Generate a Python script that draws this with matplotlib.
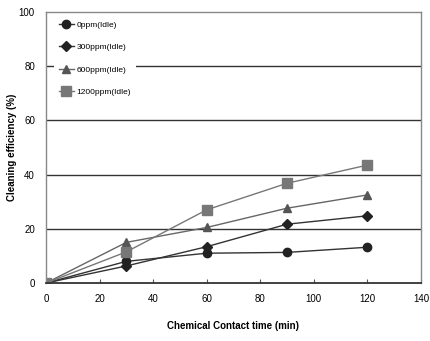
import matplotlib.pyplot as plt
import matplotlib.font_manager as fm

# 数据
time_min = [0, 30, 60, 90, 120]
eff_0ppm = [0, 8, 11, 11.3, 13.2]
eff_300ppm = [0, 6.3, 13.4, 21.7, 24.8]
eff_600ppm = [0, 15, 20.5, 27.6, 32.5]
eff_1200ppm = [0, 11.5, 27, 36.8, 43.5]
labels = ['0ppm(Idle)', '300ppm(Idle)', '600ppm(Idle)', '1200ppm(Idle)']

names = {f.name for f in fm.fontManager.ttflist}
fam = 'Liberation Sans Narrow' if 'Liberation Sans Narrow' in names else 'Liberation Sans'
plt.rcParams['font.family'] = [fam, 'DejaVu Sans']

fig = plt.figure(figsize=(4.3, 3.41), dpi=100)
ax = fig.add_axes([0.107, 0.170, 0.872, 0.795])

styles = [
    (eff_0ppm, 'o', '#222222', '#333333', 6),
    (eff_300ppm, 'D', '#222222', '#333333', 5),
    (eff_600ppm, '^', '#555555', '#666666', 6),
    (eff_1200ppm, 's', '#777777', '#777777', 6.5),
]
for (vals, mk, mc, lc, ms), lab in zip(styles, labels):
    ax.plot(time_min, vals, color=lc, lw=1.0, marker=mk, ms=ms,
            mfc=mc, mec=mc, label=lab)

ax.set_xlim(0, 140)
ax.set_ylim(0, 100)
ax.set_xticks(range(0, 141, 20))
ax.set_yticks(range(0, 101, 20))
for y in (20, 40, 60, 80):
    ax.axhline(y, color='#333333', lw=1.0, zorder=0)

for s in ax.spines.values():
    s.set_color('#888888')
    s.set_linewidth(1.0)
    s.set_zorder(5)
ax.spines['bottom'].set_color('#333333')
ax.spines['bottom'].set_linewidth(1.3)
ax.tick_params(axis='x', direction='in', length=3, labelsize=7, pad=8, color='#555555')
ax.tick_params(axis='y', length=0, labelsize=7, pad=8)

ax.set_xlabel('Chemical Contact time (min)', fontsize=7, fontweight='bold', labelpad=12)
ax.set_ylabel('Cleaning efficiency (%)', fontsize=7, fontweight='bold', labelpad=1)

leg = ax.legend(loc='upper left', bbox_to_anchor=(0.01, 1.0), fontsize=6,
                handlelength=1.8, labelspacing=1.75, framealpha=1.0,
                edgecolor='none', facecolor='white', borderpad=0.6,
                handletextpad=0.3)
leg.get_frame().set_linewidth(0)

fig.savefig('out.png', dpi=100)
